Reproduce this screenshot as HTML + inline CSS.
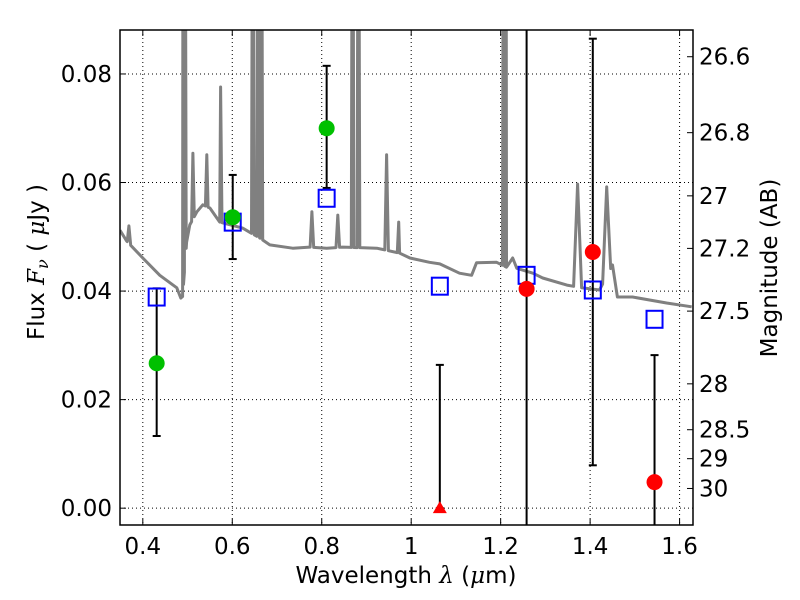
<!DOCTYPE html>
<html><head><meta charset="utf-8"><style>
html,body{margin:0;padding:0;background:#fff;width:800px;height:600px;overflow:hidden}
svg text{font-family:"DejaVu Sans","Liberation Sans",sans-serif;fill:#000}
</style></head><body>
<svg id="chart" width="800" height="600" xmlns="http://www.w3.org/2000/svg"></svg>
<script>
// spectrum continuum
const contLam=[0.349,0.364,0.400,0.438,0.476,0.485,0.489,0.498,0.505,0.521,0.534,0.550,0.572,0.623,0.661,0.684,0.735,0.773,0.811,0.847,0.923,0.974,0.997,1.041,1.064,1.108,1.135,1.146,1.191,1.213,1.227,1.236,1.272,1.294,1.348,1.381,1.421,1.450,1.461,1.495,1.571,1.627];
const contFlux=[0.0512,0.0492,0.0461,0.0429,0.0406,0.0387,0.0390,0.0490,0.0522,0.0546,0.0559,0.0553,0.0527,0.0516,0.0498,0.0485,0.0479,0.0481,0.0479,0.0481,0.0479,0.0470,0.0461,0.0453,0.0450,0.0433,0.0429,0.0452,0.0453,0.0444,0.0461,0.0442,0.0433,0.0424,0.0411,0.0406,0.0402,0.0448,0.0389,0.0389,0.0378,0.0371];
// emission lines
const lineLam=[0.369,0.490,0.494,0.512,0.543,0.574,0.646,0.658,0.665,0.778,0.836,0.869,0.882,0.945,0.972,1.207,1.212,1.372,1.437];
const linePeak=[0.0520,0.15,0.15,0.0654,0.0651,0.0776,0.15,0.15,0.15,0.0546,0.0540,0.15,0.15,0.0651,0.0527,0.15,0.15,0.0597,0.0592];
const lineWidth=[0.004,0.003,0.003,0.003,0.003,0.003,0.003,0.003,0.003,0.004,0.004,0.003,0.003,0.004,0.003,0.003,0.003,0.009,0.009];
// photometry
const greenLam=[0.431,0.601,0.811];
const greenFlux=[0.0267,0.0536,0.0700];
const greenLo=[0.0133,0.0459,0.0590];
const greenHi=[0.0405,0.0614,0.0815];
const redLam=[1.258,1.406,1.544];
const redFlux=[0.0404,0.0472,0.0048];
const redLo=[-0.02,0.0079,-0.0186];
const redHi=[0.10,0.0865,0.0282];
const limLam=[1.064];
const limFlux=[0.0];
const limHi=[0.0264];
const sqLam=[0.431,0.601,0.811,1.064,1.258,1.406,1.544];
const sqFlux=[0.0389,0.0527,0.0571,0.0409,0.0429,0.0402,0.0348];
const xTicks=[0.4,0.6,0.8,1.0,1.2,1.4,1.6];
const xTickLabels=["0.4","0.6","0.8","1","1.2","1.4","1.6"];
const yTicks=[0,0.02,0.04,0.06,0.08];
const yTickLabels=["0.00","0.02","0.04","0.06","0.08"];
const magTicks=[26.6,26.8,27,27.2,27.5,28,28.5,29,30];
const magTickLabels=["26.6","26.8","27","27.2","27.5","28","28.5","29","30"];

const L=120,R=693,T=30,B=525;
const X0=0.349,X1=1.630,Y0=-0.0031,Y1=0.0881;
const sx=v=>L+(v-X0)/(X1-X0)*(R-L);
const sy=v=>B-(v-Y0)/(Y1-Y0)*(B-T);
const svg=document.getElementById('chart');
const NS='http://www.w3.org/2000/svg';
function mk(tag,attrs,parent){const e=document.createElementNS(NS,tag);for(const k in attrs)e.setAttribute(k,attrs[k]);(parent||svg).appendChild(e);return e;}
const FS=23;

const defs=mk('defs',{});const cp=mk('clipPath',{id:'clip'},defs);mk('rect',{x:L,y:T,width:R-L,height:B-T},cp);

// grid
const grid=mk('g',{});


xTicks.forEach(v=>mk('line',{x1:sx(v),x2:sx(v),y1:T,y2:B,stroke:'#000','stroke-width':1,'stroke-dasharray':'1,3'},grid));
yTicks.forEach(v=>mk('line',{x1:L,x2:R,y1:sy(v),y2:sy(v),stroke:'#000','stroke-width':1,'stroke-dasharray':'1,3'},grid));

// spectrum
let pts=contLam.map((l,i)=>[l,contFlux[i]]);
function interp(l){for(let i=0;i<contLam.length-1;i++){if(l>=contLam[i]&&l<=contLam[i+1]){const t=(l-contLam[i])/(contLam[i+1]-contLam[i]);return contFlux[i]+t*(contFlux[i+1]-contFlux[i]);}}return contFlux[contFlux.length-1];}
lineLam.forEach((l,i)=>{pts.push([l-lineWidth[i],interp(l-lineWidth[i])]);pts.push([l,linePeak[i]]);pts.push([l+lineWidth[i],interp(l+lineWidth[i])]);});
pts.sort((a,b)=>a[0]-b[0]);
const spec=mk('path',{d:'M'+pts.map(p=>sx(p[0]).toFixed(1)+','+sy(p[1]).toFixed(1)).join('L'),fill:'none',stroke:'#808080','stroke-width':3,'clip-path':'url(#clip)','stroke-linejoin':'round'});



const marks=mk('g',{'clip-path':'url(#clip)'});
function errbar(l,lo,hi,name){const g=mk('g',{},marks);
 mk('line',{x1:sx(l),x2:sx(l),y1:sy(lo),y2:sy(hi),stroke:'#000','stroke-width':2},g);
 [lo,hi].forEach(v=>mk('line',{x1:sx(l)-4,x2:sx(l)+4,y1:sy(v),y2:sy(v),stroke:'#000','stroke-width':2},g));}
greenLam.forEach((l,i)=>errbar(l,greenLo[i],greenHi[i],'green-errorbar'));
redLam.forEach((l,i)=>errbar(l,redLo[i],redHi[i],'red-errorbar'));
limLam.forEach((l,i)=>errbar(l,limFlux[i],limHi[i],'limit-errorbar'));
sqLam.forEach((l,i)=>{const r=mk('rect',{x:sx(l)-8,y:sy(sqFlux[i])-8.5,width:16,height:17,fill:'none',stroke:'#0000ff','stroke-width':2},marks);
 
 });
greenLam.forEach((l,i)=>{const c=mk('circle',{cx:sx(l),cy:sy(greenFlux[i]),r:8,fill:'#00c000'},marks);
 
 });
redLam.forEach((l,i)=>{const c=mk('circle',{cx:sx(l),cy:sy(redFlux[i]),r:8,fill:'#ff0000'},marks);
 
 });
limLam.forEach((l,i)=>{const x=sx(l),y=sy(limFlux[i]);const p=mk('polygon',{points:`${x-7},${y+5} ${x+7},${y+5} ${x},${y-7}`,fill:'#ff0000'},marks);
 
 });

// frame
const fr=mk('rect',{x:L,y:T,width:R-L,height:B-T,fill:'none',stroke:'#000','stroke-width':1.5});



// ticks
xTicks.forEach((v,i)=>{mk('line',{x1:sx(v),x2:sx(v),y1:B,y2:B-6,stroke:'#000'});mk('line',{x1:sx(v),x2:sx(v),y1:T,y2:T+6,stroke:'#000'});
 const t=mk('text',{x:sx(v),y:B+29,'font-size':FS,'text-anchor':'middle'});t.textContent=xTickLabels[i];
 
 });
yTicks.forEach((v,i)=>{mk('line',{x1:L,x2:L+6,y1:sy(v),y2:sy(v),stroke:'#000'});
 const t=mk('text',{x:L-8,y:sy(v)+8,'font-size':FS,'text-anchor':'end'});t.textContent=yTickLabels[i];
 
 });
magTicks.forEach((m,i)=>{const f=Math.pow(10,(23.9-m)/2.5);const y=sy(f);mk('line',{x1:R,x2:R-6,y1:y,y2:y,stroke:'#000'});
 const t=mk('text',{x:R+6,y:y+8,'font-size':FS});t.textContent=magTickLabels[i];
 
 });

// axis titles
const xt=mk('text',{x:406,y:583,'font-size':FS,'text-anchor':'middle'});
xt.innerHTML='Wavelength  <tspan font-family="DejaVu Serif" font-style="italic">λ</tspan> (<tspan font-family="DejaVu Serif" font-style="italic">μ</tspan>m)';


const yt=mk('text',{x:0,y:0,'font-size':FS,'text-anchor':'middle',transform:'translate(44,262) rotate(-90)'});
yt.innerHTML='Flux  <tspan font-family="DejaVu Serif" font-style="italic">F</tspan><tspan font-family="DejaVu Serif" font-style="italic" font-size="16" dy="4">ν</tspan><tspan dy="-4">  ( </tspan><tspan font-family="DejaVu Serif" font-style="italic">μ</tspan>Jy )';


const rt=mk('text',{x:0,y:0,'font-size':FS,'text-anchor':'middle',transform:'translate(777,268) rotate(-90)'});
rt.textContent='Magnitude (AB)';


</script>
</body></html>
